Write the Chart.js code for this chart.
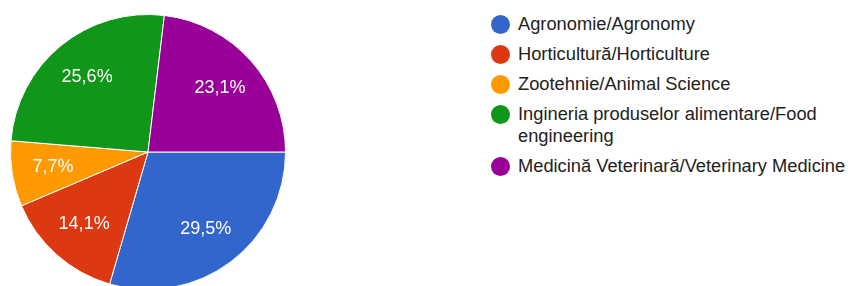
<!DOCTYPE html>
<html>
<head>
<meta charset="utf-8">
<script src="https://cdn.jsdelivr.net/npm/chart.js@4"></script>
<style>
  html, body { margin: 0; padding: 0; background: #fff; overflow: hidden; }
  body { width: 848px; height: 286px; position: relative; font-family: "Liberation Sans", Arial, sans-serif; }
  #pieBox { position: absolute; left: 0; top: 0; width: 296px; height: 304px; }
  #legend { position: absolute; left: 490px; top: 13px; width: 380px; }
  .item { position: relative; padding-left: 28px; font-size: 18.3px; line-height: 22px; color: #222; margin-bottom: 8px; width: 345px; }
  .dot { position: absolute; left: 1px; top: 2px; width: 19px; height: 19px; border-radius: 50%; }
</style>
</head>
<body>
<div id="pieBox"><canvas id="pie" width="296" height="304"></canvas></div>
<div id="legend"></div>
<script>
const categories = [
  "Agronomie/Agronomy",
  "Horticultură/Horticulture",
  "Zootehnie/Animal Science",
  "Ingineria produselor alimentare/Food engineering",
  "Medicină Veterinară/Veterinary Medicine"
];
const percents = [29.5, 14.1, 7.7, 25.6, 23.1];
const colors = ["#3366cc", "#dc3912", "#ff9900", "#109618", "#990099"];

// percentage text inside each slice
const sliceLabels = {
  id: "sliceLabels",
  afterDatasetsDraw(chart) {
    const ctx = chart.ctx;
    const meta = chart.getDatasetMeta(0);
    ctx.save();
    ctx.fillStyle = "#fff";
    ctx.font = '18px "Liberation Sans", Arial, sans-serif';
    ctx.textAlign = "center";
    ctx.textBaseline = "middle";
    meta.data.forEach((arc, i) => {
      const mid = (arc.startAngle + arc.endAngle) / 2;
      const r = arc.outerRadius * 0.7;
      const x = arc.x + Math.cos(mid) * r;
      const y = arc.y + Math.sin(mid) * r;
      ctx.fillText(percents[i].toFixed(1).replace(".", ",") + "%", x, y);
    });
    ctx.restore();
  }
};

new Chart(document.getElementById("pie"), {
  type: "pie",
  data: {
    labels: categories,
    datasets: [{
      data: percents,
      backgroundColor: colors,
      borderColor: "#fff",
      borderWidth: 1
    }]
  },
  options: {
    responsive: false,
    animation: false,
    rotation: 90,
    layout: { padding: 10 },
    plugins: { legend: { display: false }, tooltip: { enabled: false } }
  },
  plugins: [sliceLabels]
});

const legend = document.getElementById("legend");
categories.forEach((name, i) => {
  const row = document.createElement("div");
  row.className = "item";
  const dot = document.createElement("span");
  dot.className = "dot";
  dot.style.background = colors[i];
  row.appendChild(dot);
  row.appendChild(document.createTextNode(name));
  legend.appendChild(row);
});
</script>
</body>
</html>
